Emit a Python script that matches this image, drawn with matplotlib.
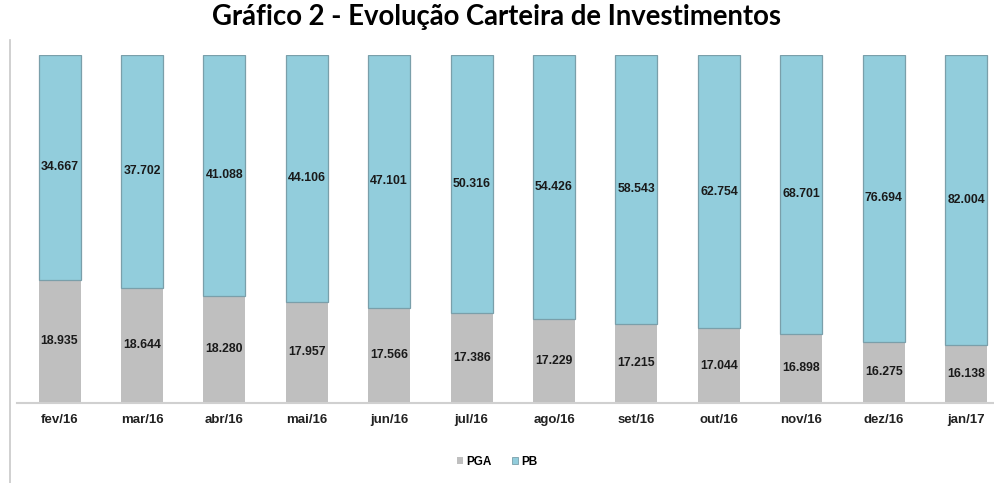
import matplotlib
matplotlib.use("Agg")
import matplotlib.pyplot as plt
from matplotlib.lines import Line2D
from matplotlib.patches import Patch
import numpy as np

categories = ["fev/16", "mar/16", "abr/16", "mai/16", "jun/16", "jul/16",
              "ago/16", "set/16", "out/16", "nov/16", "dez/16", "jan/17"]
pga = [18.935, 18.644, 18.280, 17.957, 17.566, 17.386,
       17.229, 17.215, 17.044, 16.898, 16.275, 16.138]
pb = [34.667, 37.702, 41.088, 44.106, 47.101, 50.316,
      54.426, 58.543, 62.754, 68.701, 76.694, 82.004]
pga_labels = ["18.935", "18.644", "18.280", "17.957", "17.566", "17.386",
              "17.229", "17.215", "17.044", "16.898", "16.275", "16.138"]
pb_labels = ["34.667", "37.702", "41.088", "44.106", "47.101", "50.316",
             "54.426", "58.543", "62.754", "68.701", "76.694", "82.004"]

W, H = 995, 483
fig = plt.figure(figsize=(W / 100, H / 100), dpi=100)
ax = fig.add_axes([17 / W, (H - 402.7) / H, (W - 17) / W, 348 / H])

pga_a = np.array(pga)
pb_a = np.array(pb)
tot = pga_a + pb_a
f_pga = pga_a / tot
f_pb = pb_a / tot
x = np.arange(len(categories))
bw = 0.51

c_pga = "#BFBFBF"
c_pb = "#92CDDC"
ax.bar(x, f_pga, bw, color=c_pga, edgecolor="none", zorder=2)
ax.bar(x, f_pb, bw, bottom=f_pga, color=c_pb, edgecolor="#7A9FAA",
       linewidth=0.9, zorder=2)

for i in range(len(x)):
    ax.text(x[i], f_pga[i] / 2, pga_labels[i], ha="center", va="center",
            fontsize=8.8, fontweight="bold", family="Liberation Sans",
            color="#1a1a1a", zorder=3)
    ax.text(x[i], f_pga[i] + f_pb[i] / 2, pb_labels[i], ha="center",
            va="center", fontsize=8.8, fontweight="bold",
            family="Liberation Sans", color="#1a1a1a", zorder=3)

ax.set_xlim(-0.516, 11.35)
ax.set_ylim(0, 1)
ax.set_xticks(x)
ax.set_xticklabels(categories, fontsize=9.5, fontweight="bold",
                   family="Liberation Sans", color="#222222")
ax.tick_params(axis="x", length=0, pad=8)
ax.set_yticks([])
for s in ["top", "right", "left"]:
    ax.spines[s].set_visible(False)
ax.spines["bottom"].set_color("#D0D0D0")
ax.spines["bottom"].set_linewidth(1.5)
ax.set_facecolor("none")

# left frame line
fig.add_artist(Line2D([10 / W, 10 / W], [0, (H - 40) / H],
                      color="#C8C8C8", linewidth=1.2))

fig.text(497 / W, (H - 17) / H, "Gráfico 2 - Evolução Carteira de Investimentos",
         ha="center", va="center", fontsize=19.8, fontweight="bold",
         family="Lato", color="#000000")

handles = [Patch(facecolor=c_pga, edgecolor="none", label="PGA"),
           Patch(facecolor=c_pb, edgecolor="#7A9FAA", linewidth=0.6, label="PB")]
fig.legend(handles=handles, loc="center", bbox_to_anchor=(497 / W, (H - 462) / H),
           ncol=2, frameon=False, handlelength=0.55, handleheight=0.55,
           handletextpad=0.25, columnspacing=1.7,
           prop={"family": "Liberation Sans", "weight": "bold", "size": 8.5})

fig.savefig("out.png", dpi=100)
